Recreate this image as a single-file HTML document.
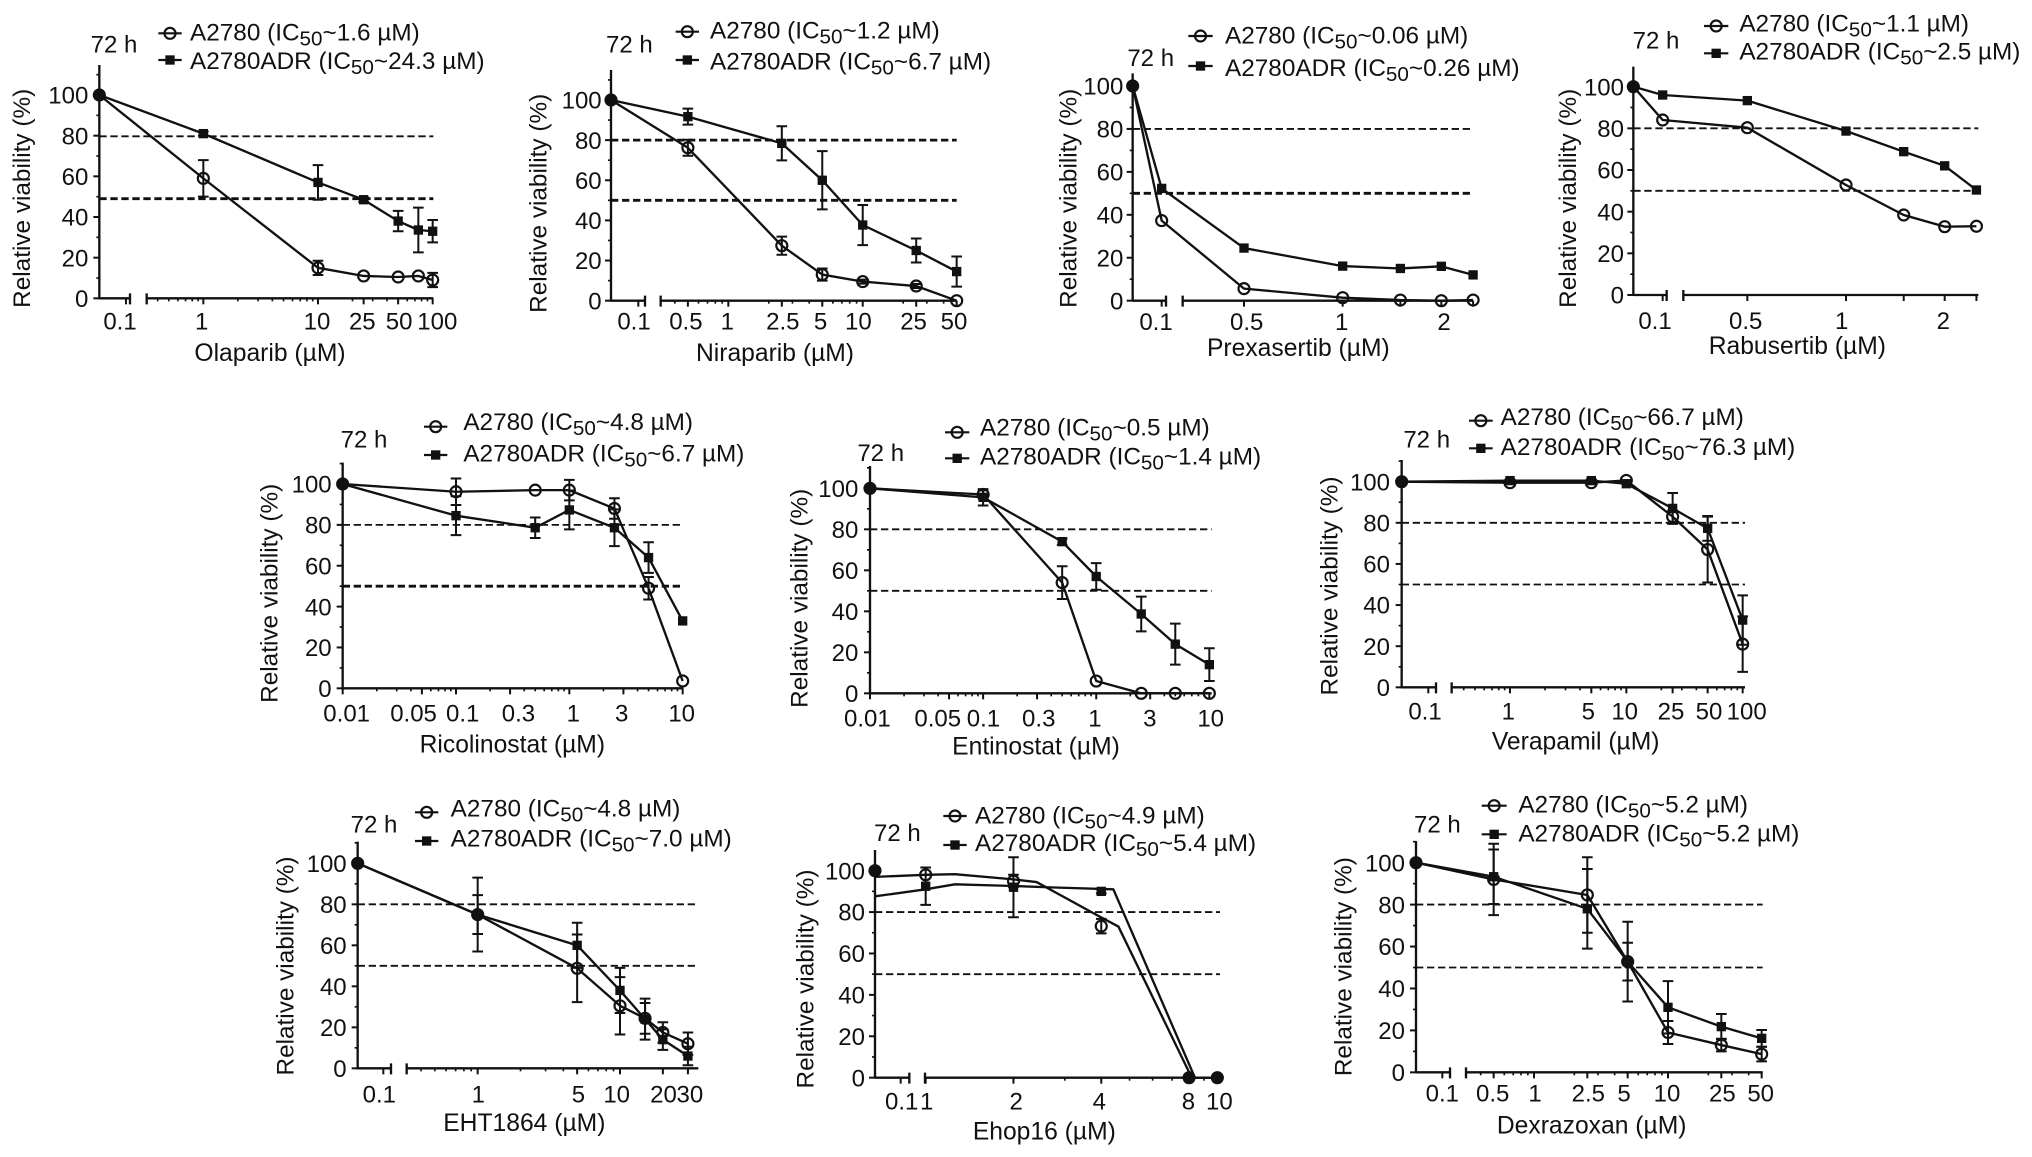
<!DOCTYPE html>
<html lang="en">
<head>
<meta charset="utf-8">
<title>Relative viability dose-response panels</title>
<style>
html,body{margin:0;padding:0;background:#fff;width:2032px;height:1157px;overflow:hidden}
svg{display:block}
text{font-family:"Liberation Sans",Arial,sans-serif;fill:#111}
</style>
</head>
<body>
<svg id="figure" xmlns="http://www.w3.org/2000/svg" width="2032" height="1157" viewBox="0 0 2032 1157"></svg>
<script>
/* ---------- data ---------- */
const yTickValues = [0, 20, 40, 60, 80, 100];

const olaparibDoses = [0, 1, 10, 25, 50, 75, 100];
const olaparibA2780 = [100, 59, 15, 11, 10.5, 11, 9];
const olaparibA2780Err = [0, 9, 3.5, 0, 0, 0, 3.5];
const olaparibADR = [100, 81, 57, 48.5, 38, 33.6, 33];
const olaparibADRErr = [0, 1, 8.5, 1, 5, 11, 5.5];
const olaparibThresholds = [80, 49];
const olaparibTicks = [0.1, 1, 10, 25, 50, 100];
const olaparibTickLabels = ['0.1', '1', '10', '25', '50', '100'];

const niraparibDoses = [0, 0.5, 2.5, 5, 10, 25, 50];
const niraparibA2780 = [100, 76.2, 27.4, 13, 9.5, 7.3, 0];
const niraparibA2780Err = [0, 4, 4.5, 3, 1, 1, 0];
const niraparibADR = [100, 91.7, 78.4, 60, 37.7, 25, 14.5];
const niraparibADRErr = [0, 4, 8.5, 14.5, 10, 6, 7.5];
const niraparibThresholds = [80, 50];
const niraparibTicks = [0.1, 0.5, 1, 2.5, 5, 10, 25, 50];
const niraparibTickLabels = ['0.1', '0.5', '1', '2.5', '5', '10', '25', '50'];

const prexasertibDoses = [0, 0.1, 0.5, 1, 1.5, 2, 2.5];
const prexasertibA2780 = [100, 37.3, 5.6, 1.4, 0.3, 0, 0.3];
const prexasertibA2780Err = [0, 0, 0, 0, 0, 0, 0];
const prexasertibADR = [100, 52.3, 24.5, 16.1, 15, 16, 12];
const prexasertibADRErr = [0, 0, 0, 0, 0, 0, 0];
const prexasertibThresholds = [80, 50];
const prexasertibTicks = [0.1, 0.5, 1, 1.5, 2, 2.5];
const prexasertibTickLabels = ['0.1', '0.5', '1', '', '2', ''];

const rabusertibDoses = [0, 0.1, 0.5, 1, 1.5, 2, 2.5];
const rabusertibA2780 = [100, 84, 80.3, 52.8, 38.4, 32.8, 33];
const rabusertibA2780Err = [0, 0, 0, 0, 0, 0, 0];
const rabusertibADR = [100, 96, 93.3, 78.7, 68.8, 62, 50.4];
const rabusertibADRErr = [0, 0, 0, 0, 0, 0, 0];
const rabusertibThresholds = [80, 50];
const rabusertibTicks = [0.1, 0.5, 1, 1.5, 2, 2.5];
const rabusertibTickLabels = ['0.1', '0.5', '1', '', '2', ''];

const ricolinostatDoses = [0.01, 0.1, 0.5, 1, 2.5, 5, 10];
const ricolinostatA2780 = [100, 96.2, 97, 97, 88, 49, 3.6];
const ricolinostatA2780Err = [0, 6.5, 0, 5, 5, 5.5, 0];
const ricolinostatADR = [100, 84.5, 78.6, 87.3, 78.6, 64, 33];
const ricolinostatADRErr = [0, 9.5, 5, 9.5, 9, 7.5, 0];
const ricolinostatThresholds = [80, 50];
const ricolinostatTicks = [0.01, 0.05, 0.1, 0.3, 1, 3, 10];
const ricolinostatTickLabels = ['0.01', '0.05', '0.1', '0.3', '1', '3', '10'];

const entinostatDoses = [0.01, 0.1, 0.5, 1, 2.5, 5, 10];
const entinostatA2780 = [100, 97, 54, 6, 0, 0, 0];
const entinostatA2780Err = [0, 2, 8, 0, 0, 0, 0];
const entinostatADR = [100, 95.6, 74, 57, 38.7, 24, 14];
const entinostatADRErr = [0, 4, 1.5, 6.5, 8.5, 10, 8];
const entinostatThresholds = [80, 50];
const entinostatTicks = [0.01, 0.05, 0.1, 0.3, 1, 3, 10];
const entinostatTickLabels = ['0.01', '0.05', '0.1', '0.3', '1', '3', '10'];

const verapamilDoses = [0, 1, 5, 10, 25, 50, 100];
const verapamilA2780 = [100, 99.5, 99.5, 100.6, 83, 67, 21];
const verapamilA2780Err = [0, 0, 0, 0, 3, 16, 13.5];
const verapamilADR = [100, 100.5, 100.5, 99, 87, 77.3, 32.7];
const verapamilADRErr = [0, 0, 0, 0, 7.5, 6, 12];
const verapamilThresholds = [80, 50];
const verapamilTicks = [0.1, 1, 5, 10, 25, 50, 100];
const verapamilTickLabels = ['0.1', '1', '5', '10', '25', '50', '100'];

const eht1864Doses = [0, 1, 5, 10, 15, 20, 30];
const eht1864A2780 = [100, 75, 48.8, 30.5, 24.4, 17.5, 12];
const eht1864A2780Err = [0, 9.5, 16.5, 14, 7.5, 5, 5.5];
const eht1864ADR = [100, 75, 60, 38, 24, 14, 6];
const eht1864ADRErr = [0, 18, 11, 11, 10, 5, 4.5];
const eht1864Thresholds = [80, 50];
const eht1864Ticks = [0.1, 1, 5, 10, 20, 30];
const eht1864TickLabels = ['0.1', '1', '5', '10', '20', '30'];

const ehop16Doses = [0, 1, 2, 4, 8, 10];
const ehop16A2780 = [100, 98, 95, 73.2, 0, 0];
const ehop16A2780Err = [0, 0, 3, 3.5, 0, 0];
const ehop16ADR = [100, 92.5, 92, 90, 0, 0];
const ehop16ADRErr = [0, 9, 14.5, 1, 0, 0];
const ehop16A2780CurveDoses = [0, 1, 1.26, 2, 2.4, 3.86, 4.58, 8.17, 10];
const ehop16A2780CurveValues = [97, 98, 98.3, 95.8, 94.5, 78.6, 73, 0, 0];
const ehop16ADRCurveDoses = [0, 1, 1.26, 2, 2.6, 4.4, 8.38, 10];
const ehop16ADRCurveValues = [87.6, 91, 93.4, 92.6, 92, 91, 0, 0];
const ehop16Thresholds = [80, 50];
const ehop16Ticks = [0.1, 1, 2, 4, 8, 10];
const ehop16TickLabels = ['0.1', '1', '2', '4', '8', '10'];

const dexrazoxanDoses = [0, 0.5, 2.5, 5, 10, 25, 50];
const dexrazoxanA2780 = [100, 92, 84.6, 52.8, 19, 13, 8.7];
const dexrazoxanA2780Err = [0, 17, 18, 9, 5.5, 3, 3.5];
const dexrazoxanADR = [100, 93.3, 78, 52.8, 31, 21.8, 16.2];
const dexrazoxanADRErr = [0, 13, 19, 19, 12.5, 6, 4];
const dexrazoxanThresholds = [80, 50];
const dexrazoxanTicks = [0.1, 0.5, 1, 2.5, 5, 10, 25, 50];
const dexrazoxanTickLabels = ['0.1', '0.5', '1', '2.5', '5', '10', '25', '50'];

/* ---------- layout (units are 1/3 px inside each panel group) ---------- */
const panels = [
{id:'olaparib',title:'Olaparib (µM)',ic:['~1.6 µM)','~24.3 µM)'],doses:olaparibDoses,a:olaparibA2780,aErr:olaparibA2780Err,b:olaparibADR,bErr:olaparibADRErr,thresholds:olaparibThresholds,ticks:olaparibTicks,labels:olaparibTickLabels,
 box:{ox:0,oy:0,axisX:298,y0:895,y100:285,yTop:195,lowPx:378,breakL:390,breakR:440,xEnd:1300,d1:1,p1:610,d2:100,p2:1298,thick:[false,true],decades:[0.1,1,10],
 nudge:[-18,-5,-3,-4,3,14],tickLabelY:988,titleX:810,titleY:1083,hX:272,hY:158,legLine:[475,545],legY:[100,180],legX:570,legBase:[122,207],yLabelX:265,yTitleX:90,yTitleY:595,thresholdShift:[2,0]}},
{id:'niraparib',title:'Niraparib (µM)',ic:['~1.2 µM)','~6.7 µM)'],doses:niraparibDoses,a:niraparibA2780,aErr:niraparibA2780Err,b:niraparibADR,bErr:niraparibADRErr,thresholds:niraparibThresholds,ticks:niraparibTicks,labels:niraparibTickLabels,
 box:{ox:510,oy:0,axisX:303,y0:902,y100:300,yTop:210,lowPx:385,breakL:405,breakR:452,xEnd:1340,d1:1,p1:655,d2:50,p2:1340,thick:[true,true],decades:[0.1,1,10],
 nudge:[-13,-6,-3,3,-5,-13,-8,-8],tickLabelY:988,titleX:795,titleY:1083,hX:288,hY:158,legLine:[497,567],legY:[95,180],legX:600,legBase:[115,208],yLabelX:275,yTitleX:110,yTitleY:610,thresholdShift:[0,0]}},
{id:'prexasertib',title:'Prexasertib (µM)',ic:['~0.06 µM)','~0.26 µM)'],doses:prexasertibDoses,a:prexasertibA2780,aErr:prexasertibA2780Err,b:prexasertibADR,bErr:prexasertibADRErr,thresholds:prexasertibThresholds,ticks:prexasertibTicks,labels:prexasertibTickLabels,
 box:{ox:1040,oy:0,axisX:278,y0:902,y100:258,yTop:220,lowPx:365,breakL:378,breakR:428,xEnd:1298,d1:1,p1:908,d2:2,p2:1204,thick:[false,true],decades:[],
 nudge:[-17,8,-3,0,8,0],tickLabelY:990,titleX:775,titleY:1068,hX:262,hY:198,legLine:[445,518],legY:[108,198],legX:555,legBase:[130,228],yLabelX:250,yTitleX:110,yTitleY:595,thresholdShift:[0,0]}},
{id:'rabusertib',title:'Rabusertib (µM)',ic:['~1.1 µM)','~2.5 µM)'],doses:rabusertibDoses,a:rabusertibA2780,aErr:rabusertibA2780Err,b:rabusertibADR,bErr:rabusertibADRErr,thresholds:rabusertibThresholds,ticks:rabusertibTicks,labels:rabusertibTickLabels,
 box:{ox:1550,oy:0,axisX:250,y0:885,y100:260,yTop:200,lowPx:338,breakL:350,breakR:400,xEnd:1285,d1:1,p1:888,d2:2,p2:1184,thick:[false,false],decades:[],
 nudge:[-23,-5,-13,0,-4,0],tickLabelY:987,titleX:742,titleY:1062,hX:248,hY:145,legLine:[462,535],legY:[78,160],legX:568,legBase:[95,178],yLabelX:222,yTitleX:78,yTitleY:595,thresholdShift:[0,0]}},
{id:'ricolinostat',title:'Ricolinostat (µM)',ic:['~4.8 µM)','~6.7 µM)'],doses:ricolinostatDoses,a:ricolinostatA2780,aErr:ricolinostatA2780Err,b:ricolinostatADR,bErr:ricolinostatADRErr,thresholds:ricolinostatThresholds,ticks:ricolinostatTicks,labels:ricolinostatTickLabels,
 box:{ox:250,oy:400,axisX:278,y0:865,y100:252,yTop:188,lowPx:null,breakL:null,breakR:278,xEnd:1300,d1:0.01,p1:278,d2:10,p2:1298,thick:[false,true],decades:[0.01,0.1,1],
 nudge:[12,-25,20,25,12,-5,-3],tickLabelY:965,titleX:787,titleY:1057,hX:272,hY:142,legLine:[522,592],legY:[80,165],legX:640,legBase:[90,185],yLabelX:245,yTitleX:82,yTitleY:580,thresholdShift:[0,0]}},
{id:'entinostat',title:'Entinostat (µM)',ic:['~0.5 µM)','~1.4 µM)'],doses:entinostatDoses,a:entinostatA2780,aErr:entinostatA2780Err,b:entinostatADR,bErr:entinostatADRErr,thresholds:entinostatThresholds,ticks:entinostatTicks,labels:entinostatTickLabels,
 box:{ox:780,oy:400,axisX:270,y0:880,y100:265,yTop:198,lowPx:null,breakL:null,breakR:270,xEnd:1295,d1:0.01,p1:270,d2:10,p2:1288,thick:[false,false],decades:[0.01,0.1,1],
 nudge:[-8,-34,1,5,-4,-1,4],tickLabelY:980,titleX:768,titleY:1063,hX:232,hY:183,legLine:[495,568],legY:[97,175],legX:600,legBase:[107,193],yLabelX:235,yTitleX:82,yTitleY:595,thresholdShift:[0,0]}},
{id:'verapamil',title:'Verapamil (µM)',ic:['~66.7 µM)','~76.3 µM)'],doses:verapamilDoses,a:verapamilA2780,aErr:verapamilA2780Err,b:verapamilADR,bErr:verapamilADRErr,thresholds:verapamilThresholds,ticks:verapamilTicks,labels:verapamilTickLabels,
 box:{ox:1310,oy:400,axisX:275,y0:862,y100:245,yTop:180,lowPx:355,breakL:378,breakR:425,xEnd:1305,d1:1,p1:600,d2:100,p2:1298,thick:[false,false],decades:[0.1,1,10],
 nudge:[-10,-5,-9,-5,-5,4,12],tickLabelY:958,titleX:797,titleY:1048,hX:280,hY:142,legLine:[477,548],legY:[62,145],legX:572,legBase:[75,165],yLabelX:240,yTitleX:82,yTitleY:558,thresholdShift:[0,0]}},
{id:'eht1864',title:'EHT1864 (µM)',ic:['~4.8 µM)','~7.0 µM)'],doses:eht1864Doses,a:eht1864A2780,aErr:eht1864A2780Err,b:eht1864ADR,bErr:eht1864ADRErr,thresholds:eht1864Thresholds,ticks:eht1864Ticks,labels:eht1864TickLabels,
 box:{ox:260,oy:780,axisX:293,y0:865,y100:250,yTop:185,lowPx:370,breakL:393,breakR:440,xEnd:1315,d1:1,p1:653,d2:10,p2:1080,thick:[false,false],decades:[0.1,1,10],
 nudge:[-12,2,4,-10,2,6],tickLabelY:968,titleX:793,titleY:1053,hX:272,hY:158,legLine:[465,535],legY:[97,183],legX:572,legBase:[110,200],yLabelX:260,yTitleX:100,yTitleY:558,thresholdShift:[0,0]}},
{id:'ehop16',title:'Ehop16 (µM)',ic:['~4.9 µM)','~5.4 µM)'],doses:ehop16Doses,a:ehop16A2780,aErr:ehop16A2780Err,b:ehop16ADR,bErr:ehop16ADRErr,thresholds:ehop16Thresholds,ticks:ehop16Ticks,labels:ehop16TickLabels,
 aCurveDoses:ehop16A2780CurveDoses,aCurve:ehop16A2780CurveValues,bCurveDoses:ehop16ADRCurveDoses,bCurve:ehop16ADRCurveValues,
 box:{ox:780,oy:780,axisX:285,y0:893,y100:272,yTop:210,lowPx:362,breakL:388,breakR:435,xEnd:1320,d1:1,p1:437,d2:10,p2:1312,thick:[false,false],decades:[1],
 nudge:[3,3,8,-6,-2,6],tickLabelY:988,titleX:793,titleY:1078,hX:282,hY:183,legLine:[490,560],legY:[108,195],legX:585,legBase:[130,213],yLabelX:255,yTitleX:100,yTitleY:597,thresholdShift:[0,0]}},
{id:'dexrazoxan',title:'Dexrazoxan (µM)',ic:['~5.2 µM)','~5.2 µM)'],doses:dexrazoxanDoses,a:dexrazoxanA2780,aErr:dexrazoxanA2780Err,b:dexrazoxanADR,bErr:dexrazoxanADRErr,thresholds:dexrazoxanThresholds,ticks:dexrazoxanTicks,labels:dexrazoxanTickLabels,
 box:{ox:1310,oy:780,axisX:318,y0:877,y100:248,yTop:183,lowPx:397,breakL:420,breakR:468,xEnd:1358,d1:1,p1:672,d2:50,p2:1355,thick:[false,false],decades:[0.1,1,10],
 nudge:[0,-3,3,3,-11,-3,3,-3],tickLabelY:965,titleX:845,titleY:1060,hX:312,hY:158,legLine:[515,590],legY:[77,163],legX:625,legBase:[98,185],yLabelX:285,yTitleX:125,yTitleY:560,thresholdShift:[0,0]}}
];

/* ---------- drawing ---------- */
const NS = 'http://www.w3.org/2000/svg';
const INK = '#111';
const figure = document.getElementById('figure');

function make(parent, tag, attrs, txt) {
  const n = document.createElementNS(NS, tag);
  for (const k in attrs) n.setAttribute(k, attrs[k]);
  if (txt !== undefined) n.textContent = txt;
  parent.appendChild(n);
  return n;
}
function xAxisFn(b) {
  const k = (b.p2 - b.p1) / (Math.log10(b.d2) - Math.log10(b.d1));
  return function (d) {
    if (b.lowPx !== null) {
      if (d === 0) return b.axisX;
      if (d <= 0.1) return b.lowPx;
    }
    return b.p1 + (Math.log10(d) - Math.log10(b.d1)) * k;
  };
}
function yAxisFn(b) {
  return function (v) { return b.y0 - (b.y0 - b.y100) * v / 100; };
}
function drawMarker(g, kind, x, y, name) {
  let m;
  if (kind === 'open') {
    m = make(g, 'circle', {cx:x, cy:y, r:16.5, fill:'none', stroke:INK, 'stroke-width':6.5});
  } else {
    m = make(g, 'rect', {x:x-14, y:y-14, width:28, height:28, fill:INK});
  }
  
  
}
function drawSeries(g, p, key, kind, x, y) {
  const doses = p.doses, vals = p[key], errs = p[key + 'Err'];
  const curveDoses = p[key + 'CurveDoses'] || doses, curveVals = p[key + 'Curve'] || vals;
  const pts = curveDoses.map(function (d, i) { return x(d).toFixed(1) + ',' + y(curveVals[i]).toFixed(1); }).join(' ');
  const line = make(g, 'polyline', {points:pts, fill:'none', stroke:INK, 'stroke-width':7, 'stroke-linejoin':'round'});
  
  
  doses.forEach(function (d, i) {
    if (!errs[i]) return;
    const px = x(d), hi = y(vals[i] + errs[i]), lo = y(vals[i] - errs[i]);
    const bar = make(g, 'path', {d:'M'+px+' '+hi+'V'+lo+'M'+(px-16)+' '+hi+'H'+(px+16)+'M'+(px-16)+' '+lo+'H'+(px+16), fill:'none', stroke:INK, 'stroke-width':6});
    
    
  });
  doses.forEach(function (d, i) {
    drawMarker(g, kind, x(d), y(vals[i]), key === 'a' ? 'a2780-point' : 'a2780adr-point');
  });
}

panels.forEach(function (p) {
  const b = p.box, x = xAxisFn(b), y = yAxisFn(b);
  const g = make(figure, 'g', {transform:'translate('+b.ox+' '+b.oy+') scale('+(1/3)+')'});
  
  

  /* threshold dashed lines */
  p.thresholds.forEach(function (t, i) {
    const ty = y(t) + b.thresholdShift[i];
    const d = make(g, 'line', {x1:b.axisX, x2:b.xEnd, y1:ty, y2:ty, stroke:INK, 'stroke-width':b.thick[i] ? 8.5 : 5.5, 'stroke-dasharray':'22 11'});
    
    
  });

  /* y axis */
  const yAx = make(g, 'line', {x1:b.axisX, x2:b.axisX, y1:b.yTop, y2:b.y0+3, stroke:INK, 'stroke-width':7});
  
  
  for (let v = 10; y(v) > b.yTop; v += 20) {
    const mt = make(g, 'line', {x1:b.axisX-9, x2:b.axisX, y1:y(v), y2:y(v), stroke:INK, 'stroke-width':5});
    
    
  }
  yTickValues.forEach(function (v) {
    const t = make(g, 'line', {x1:b.axisX-18, x2:b.axisX, y1:y(v), y2:y(v), stroke:INK, 'stroke-width':6});
    
    
    const l = make(g, 'text', {x:b.yLabelX, y:y(v)+26, 'text-anchor':'end', 'font-size':72}, String(v));
    
    
  });
  const yt = make(g, 'text', {x:b.yTitleX, y:b.yTitleY, 'text-anchor':'middle', 'font-size':73, transform:'rotate(-90 '+b.yTitleX+' '+b.yTitleY+')'}, 'Relative viability (%)');
  
  

  /* x axis, optionally broken */
  let axisPath = 'M'+b.breakR+' '+b.y0+'H'+b.xEnd;
  if (b.breakL !== null) {
    axisPath += 'M'+b.axisX+' '+b.y0+'H'+b.breakL;
    axisPath += 'M'+b.breakL+' '+(b.y0-15)+'V'+(b.y0+18);
    axisPath += 'M'+b.breakR+' '+(b.y0-15)+'V'+(b.y0+18);
  }
  const xAx = make(g, 'path', {d:axisPath, fill:'none', stroke:INK, 'stroke-width':7});
  
  
  b.decades.forEach(function (dec) {
    [2, 3, 4, 5, 6, 7, 8, 9].forEach(function (k) {
      const px = x(dec * k);
      if (dec * k <= 0.1 && b.lowPx !== null) return;
      if (px <= b.breakR || px > b.xEnd) return;
      const mt = make(g, 'line', {x1:px, x2:px, y1:b.y0, y2:b.y0+9, stroke:INK, 'stroke-width':5});
      
      
    });
  });
  p.ticks.forEach(function (tv, i) {
    const px = x(tv);
    const t = make(g, 'line', {x1:px, x2:px, y1:b.y0, y2:b.y0+18, stroke:INK, 'stroke-width':6});
    
    
    if (p.labels[i] === '') return;
    const l = make(g, 'text', {x:px+b.nudge[i], y:b.tickLabelY, 'text-anchor':'middle', 'font-size':72}, p.labels[i]);
    
    
  });
  const xt = make(g, 'text', {x:b.titleX, y:b.titleY, 'text-anchor':'middle', 'font-size':74}, p.title);
  
  

  /* time label */
  const hr = make(g, 'text', {x:b.hX, y:b.hY, 'font-size':72}, '72 h');
  
  

  /* series */
  drawSeries(g, p, 'a', 'open', x, y);
  drawSeries(g, p, 'b', 'square', x, y);

  /* legend */
  ['A2780', 'A2780ADR'].forEach(function (name, i) {
    const ly = b.legY[i], mid = (b.legLine[0] + b.legLine[1]) / 2;
    const ll = make(g, 'line', {x1:b.legLine[0], x2:b.legLine[1], y1:ly, y2:ly, stroke:INK, 'stroke-width':6.5});
    
    
    drawMarker(g, i === 0 ? 'open' : 'square', mid, ly, 'legend-marker');
    const t = make(g, 'text', {x:b.legX, y:b.legBase[i], 'font-size':73});
    
    
    make(t, 'tspan', {}, name + ' (IC');
    make(t, 'tspan', {dy:15, 'font-size':62}, '50');
    make(t, 'tspan', {dy:-15}, p.ic[i]);
  });
});
</script>
</body>
</html>
